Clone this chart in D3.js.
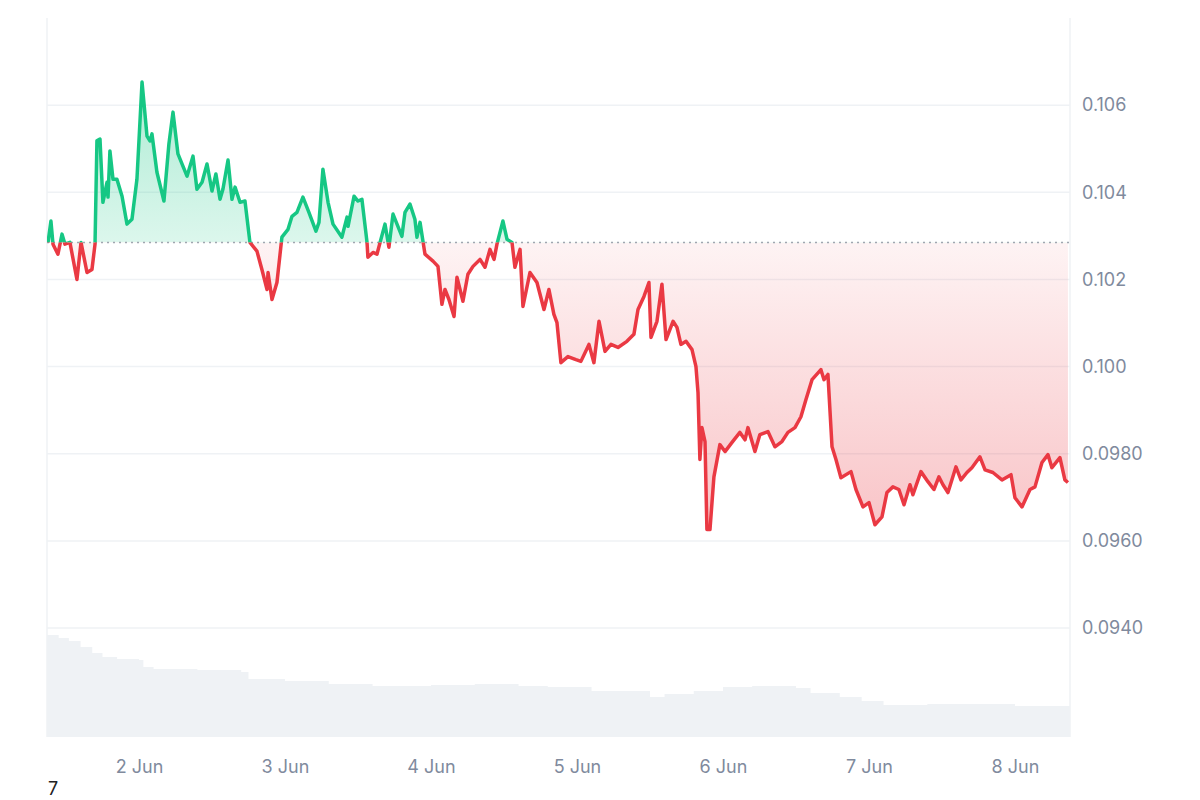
<!DOCTYPE html>
<html><head><meta charset="utf-8">
<script src="https://cdn.jsdelivr.net/npm/d3@7"></script>
<style>body{margin:0;background:#fff}svg{display:block;font-family:Inter,"Noto Sans",sans-serif}</style>
</head><body><svg id="c" width="1200" height="800"></svg>
<script>
// time in days after 1 Jun 00:00
const priceDays = [0.377,0.397,0.411,0.445,0.473,0.493,0.527,0.575,0.603,0.644,0.678,0.699,0.712,0.733,0.753,0.781,0.788,0.801,0.822,0.849,0.884,0.918,0.952,0.986,1.021,1.055,1.075,1.089,1.123,1.171,1.205,1.233,1.267,1.301,1.329,1.370,1.397,1.432,1.466,1.500,1.527,1.555,1.575,1.610,1.637,1.658,1.692,1.726,1.760,1.808,1.842,1.877,1.884,1.911,1.945,1.979,2.021,2.048,2.082,2.123,2.164,2.212,2.233,2.260,2.295,2.329,2.390,2.425,2.432,2.473,2.500,2.527,2.562,2.568,2.603,2.630,2.685,2.712,2.740,2.801,2.822,2.856,2.890,2.904,2.925,2.959,3.014,3.048,3.075,3.096,3.123,3.158,3.178,3.219,3.253,3.288,3.336,3.370,3.404,3.432,3.452,3.493,3.521,3.555,3.575,3.610,3.630,3.678,3.726,3.774,3.808,3.842,3.863,3.890,3.938,3.993,4.027,4.082,4.116,4.151,4.192,4.233,4.281,4.342,4.390,4.418,4.459,4.493,4.507,4.548,4.582,4.610,4.658,4.685,4.712,4.747,4.788,4.815,4.829,4.842,4.856,4.877,4.890,4.911,4.938,4.979,5.014,5.062,5.116,5.151,5.171,5.219,5.253,5.308,5.356,5.404,5.445,5.493,5.534,5.568,5.610,5.671,5.692,5.719,5.747,5.774,5.808,5.877,5.911,5.959,6.000,6.041,6.089,6.123,6.164,6.205,6.240,6.281,6.301,6.356,6.404,6.445,6.479,6.507,6.541,6.596,6.630,6.671,6.705,6.760,6.795,6.849,6.911,6.973,7.000,7.048,7.103,7.137,7.185,7.226,7.253,7.308,7.342,7.363];
const priceValues = [0.10285,0.10334,0.10281,0.10258,0.10304,0.10281,0.10285,0.10200,0.10285,0.10216,0.10223,0.10281,0.10518,0.10522,0.10377,0.10423,0.10389,0.10495,0.10430,0.10430,0.10391,0.10327,0.10338,0.10430,0.10653,0.10529,0.10518,0.10534,0.10446,0.10380,0.10511,0.10584,0.10488,0.10460,0.10437,0.10483,0.10407,0.10423,0.10465,0.10403,0.10442,0.10384,0.10407,0.10474,0.10384,0.10412,0.10377,0.10380,0.10285,0.10265,0.10223,0.10177,0.10216,0.10154,0.10193,0.10297,0.10315,0.10345,0.10354,0.10389,0.10354,0.10311,0.10331,0.10453,0.10377,0.10327,0.10297,0.10343,0.10322,0.10391,0.10380,0.10384,0.10285,0.10251,0.10262,0.10258,0.10327,0.10274,0.10350,0.10299,0.10354,0.10373,0.10338,0.10297,0.10331,0.10258,0.10242,0.10230,0.10143,0.10177,0.10154,0.10115,0.10205,0.10150,0.10212,0.10230,0.10246,0.10228,0.10269,0.10246,0.10281,0.10334,0.10292,0.10285,0.10228,0.10269,0.10138,0.10216,0.10193,0.10131,0.10177,0.10120,0.10101,0.10009,0.10023,0.10016,0.10012,0.10051,0.10009,0.10104,0.10035,0.10051,0.10044,0.10058,0.10074,0.10131,0.10161,0.10193,0.10067,0.10104,0.10189,0.10062,0.10104,0.10090,0.10051,0.10058,0.10039,0.10000,0.09941,0.09787,0.09860,0.09828,0.09626,0.09626,0.09747,0.09821,0.09805,0.09826,0.09849,0.09832,0.09860,0.09805,0.09844,0.09851,0.09816,0.09828,0.09849,0.09860,0.09885,0.09924,0.09970,0.09993,0.09970,0.09982,0.09816,0.09787,0.09745,0.09759,0.09718,0.09678,0.09688,0.09637,0.09655,0.09711,0.09724,0.09718,0.09683,0.09729,0.09706,0.09759,0.09736,0.09718,0.09747,0.09729,0.09711,0.09770,0.09740,0.09757,0.09768,0.09793,0.09763,0.09757,0.09740,0.09752,0.09699,0.09678,0.09718,0.09724,0.09780,0.09798,0.09768,0.09791,0.09740,0.09734];
const baseline = 0.10285;
const volumeDays = [0.37,0.45,0.52,0.60,0.68,0.75,0.85,1.0,1.03,1.1,1.4,1.7,1.75,2.0,2.3,2.6,3.0,3.3,3.6,3.8,4.1,4.5,4.6,4.8,5.0,5.2,5.5,5.6,5.8,5.95,6.1,6.4,7.0,7.377];
const volumeValues = [102,99,96,90,84,80,78,77,70,68,67,65,58,56,53,51,52,53,51,50,46,40,43,46,50,51,49,44,40,36,32,33,31,32];
const yTicks = [0.094,0.096,0.098,0.100,0.102,0.104,0.106];
const yTickLabels = ["0.0940","0.0960","0.0980","0.100","0.102","0.104","0.106"];
const xTickDays = [1,2,3,4,5,6,7];
const xTickLabels = ["2 Jun","3 Jun","4 Jun","5 Jun","6 Jun","7 Jun","8 Jun"];

const t0 = Date.UTC(2024,5,1);
const toDate = d => new Date(t0 + d*86400000);
const price = priceDays.map((d,i)=>({t:toDate(d),v:priceValues[i]}));
const vol = volumeDays.map((d,i)=>({t:toDate(d),v:volumeValues[i]}));

const L=47,R=1070,T=18,B=737;
const svg=d3.select("#c");
const x=d3.scaleUtc().domain([toDate(0.370),toDate(7.377)]).range([L,R]);
const y=d3.scaleLinear().domain([0.0915,0.1080]).range([B,T]);
const yv=d3.scaleLinear().domain([0,100]).range([B,B-100]);

svg.append("g").selectAll("line").data(yTicks).join("line")
 .attr("x1",L).attr("x2",R).attr("y1",d=>y(d)).attr("y2",d=>y(d)).attr("stroke","#eff2f5").attr("stroke-width",1.5);
svg.append("line").attr("x1",L).attr("x2",L).attr("y1",T).attr("y2",B).attr("stroke","#eff2f5").attr("stroke-width",1.5);
svg.append("line").attr("x1",R).attr("x2",R).attr("y1",T).attr("y2",B).attr("stroke","#eff2f5").attr("stroke-width",1.5);

svg.append("path").datum(vol).attr("fill","#eff2f5")
 .attr("d",d3.area().curve(d3.curveStepAfter).x(d=>x(d.t)).y0(B).y1(d=>yv(d.v)));

const yb=y(baseline);
const defs=svg.append("defs");
defs.append("clipPath").attr("id","above").append("rect").attr("x",L).attr("y",T).attr("width",R-L).attr("height",yb-T);
defs.append("clipPath").attr("id","below").append("rect").attr("x",L).attr("y",yb).attr("width",R-L).attr("height",B-yb);
const gg=defs.append("linearGradient").attr("id","gg").attr("x1",0).attr("x2",0).attr("gradientUnits","userSpaceOnUse")
 .attr("y1",y(0.1065)).attr("y2",yb);
gg.append("stop").attr("offset",0).attr("stop-color","#16c784").attr("stop-opacity",0.35);
gg.append("stop").attr("offset",1).attr("stop-color","#16c784").attr("stop-opacity",0.15);
const rg=defs.append("linearGradient").attr("id","rg").attr("x1",0).attr("x2",0).attr("gradientUnits","userSpaceOnUse")
 .attr("y1",yb).attr("y2",y(0.0962));
rg.append("stop").attr("offset",0).attr("stop-color","#ea3943").attr("stop-opacity",0.06);
rg.append("stop").attr("offset",1).attr("stop-color","#ea3943").attr("stop-opacity",0.3);

const area=d3.area().x(d=>x(d.t)).y0(yb).y1(d=>y(d.v));
const line=d3.line().x(d=>x(d.t)).y(d=>y(d.v));
svg.append("path").datum(price).attr("d",area).attr("fill","url(#gg)").attr("clip-path","url(#above)");
svg.append("path").datum(price).attr("d",area).attr("fill","url(#rg)").attr("clip-path","url(#below)");
svg.append("line").attr("x1",L).attr("x2",R).attr("y1",yb).attr("y2",yb).attr("stroke","#a0a6b0").attr("stroke-width",1.5).attr("stroke-dasharray","2,4");
svg.append("path").datum(price).attr("d",line).attr("fill","none").attr("stroke","#16c784").attr("stroke-width",3.5).attr("stroke-linejoin","round").attr("clip-path","url(#above)");
svg.append("path").datum(price).attr("d",line).attr("fill","none").attr("stroke","#ea3943").attr("stroke-width",3.5).attr("stroke-linejoin","round").attr("clip-path","url(#below)");

const ya=d3.axisRight(y).tickValues(yTicks).tickFormat((d,i)=>yTickLabels[i]).tickSize(0).tickPadding(12);
svg.append("g").attr("transform",`translate(${R},0)`).call(ya).call(g=>{g.select(".domain").remove();g.selectAll("text").attr("fill","#808a9d").attr("font-size",18).attr("font-family","Inter,'Noto Sans',sans-serif");});
const xa=d3.axisBottom(x).tickValues(xTickDays.map(toDate)).tickFormat((d,i)=>xTickLabels[i]).tickSize(0).tickPadding(23);
svg.append("g").attr("transform",`translate(0,${B})`).call(xa).call(g=>{g.select(".domain").remove();g.selectAll("text").attr("fill","#808a9d").attr("font-size",18).attr("font-family","Inter,'Noto Sans',sans-serif");});
svg.append("text").attr("x",48).attr("y",795).attr("font-size",18).attr("fill","#222").text("7");
</script></body></html>
